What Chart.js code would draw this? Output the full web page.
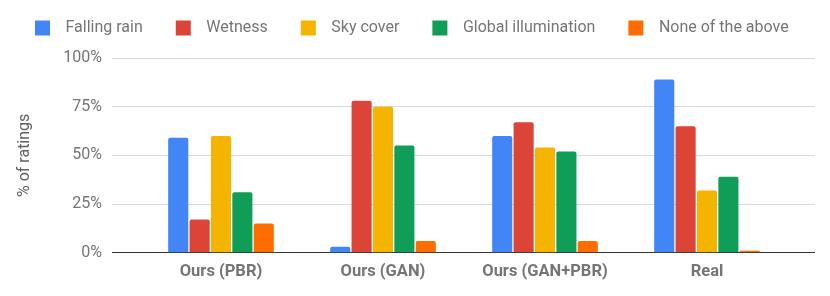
<!DOCTYPE html>
<html>
<head>
<meta charset="utf-8">
<script src="https://cdn.jsdelivr.net/npm/chart.js@4.4.1/dist/chart.umd.min.js"></script>
<style>
  html, body { margin: 0; padding: 0; background: #fff; }
  #wrap { width: 830px; height: 296px; }
</style>
</head>
<body>
<div id="wrap"><canvas id="ratingChart"></canvas></div>
<script>
// categories and series (% of ratings)
const methods = ['Ours (PBR)', 'Ours (GAN)', 'Ours (GAN+PBR)', 'Real'];
const fallingRain = [59, 3, 60, 89];
const wetness = [17, 78, 67, 65];
const skyCover = [60, 75, 54, 32];
const globalIllum = [31, 55, 52, 39];
const noneAbove = [15, 6, 6, 1];
const yTicks = [0, 25, 50, 75, 100];

const FONT = "Roboto, 'Noto Sans', sans-serif";
const gridColor = (ctx) => (ctx.tick && ctx.tick.value === 0 ? '#333333' : '#d9d9d9');

function bars(label, data, color) {
    return {
        label: label,
        data: data,
        backgroundColor: color,
        borderRadius: { topLeft: 2, topRight: 2 },
        borderSkipped: 'start',
        barPercentage: 0.94,
        categoryPercentage: 0.66
    };
}

// small extra gap under the legend
const legendGap = {
    id: 'legendGap',
    beforeInit(chart) {
        const fit = chart.legend.fit;
        chart.legend.fit = function () {
            fit.call(this);
            this.height += 5;
        };
    }
};

new Chart(document.getElementById('ratingChart').getContext('2d'), {
    type: 'bar',
    data: {
        labels: methods,
        datasets: [
            bars('Falling rain', fallingRain, '#4285f4'),
            bars('Wetness', wetness, '#db4437'),
            bars('Sky cover', skyCover, '#f4b400'),
            bars('Global illumination', globalIllum, '#0f9d58'),
            bars('None of the above', noneAbove, '#ff6d00')
        ]
    },
    options: {
        responsive: true,
        maintainAspectRatio: false,
        animation: false,
        layout: { padding: { top: -12.5, left: 2, right: 10, bottom: 5.5 } },
        plugins: {
            tooltip: { enabled: false },
            legend: {
                position: 'top',
                align: 'start',
                labels: {
                    boxWidth: 30,
                    boxHeight: 30,
                    padding: 25.5,
                    color: '#757575',
                    font: { family: FONT, size: 16 },
                    // white border shrinks the swatch so the text gap looks like the original
                    generateLabels: (chart) =>
                        Chart.defaults.plugins.legend.labels.generateLabels(chart).map(l => ({
                            ...l, strokeStyle: '#ffffff', lineWidth: 15, borderRadius: 0
                        }))
                }
            }
        },
        scales: {
            x: {
                grid: { display: false, drawTicks: false },
                border: { display: false },
                ticks: {
                    padding: 9,
                    color: '#757575',
                    font: { family: FONT, size: 16.5, weight: 'bold' }
                }
            },
            y: {
                min: 0,
                max: 100,
                afterBuildTicks: (s) => { s.ticks = yTicks.map(v => ({ value: v })); },
                afterFit: (s) => { s.width = 138; },
                border: { display: false },
                grid: { color: gridColor, tickLength: 28 },
                ticks: {
                    padding: 10,
                    color: '#757575',
                    font: { family: FONT, size: 16 },
                    callback: (v) => v + '%'
                },
                title: {
                    display: true,
                    text: '% of ratings',
                    color: '#616161',
                    padding: { top: 13.4, bottom: 4 },
                    font: { family: FONT, size: 16 }
                }
            },
            y2: {
                position: 'right',
                min: 0,
                max: 100,
                afterBuildTicks: (s) => { s.ticks = yTicks.map(v => ({ value: v })); },
                afterFit: (s) => { s.width = 32; },
                border: { display: false },
                grid: { color: gridColor, tickLength: 27, drawOnChartArea: false },
                ticks: { display: false }
            }
        }
    },
    plugins: [legendGap]
});
</script>
</body>
</html>
